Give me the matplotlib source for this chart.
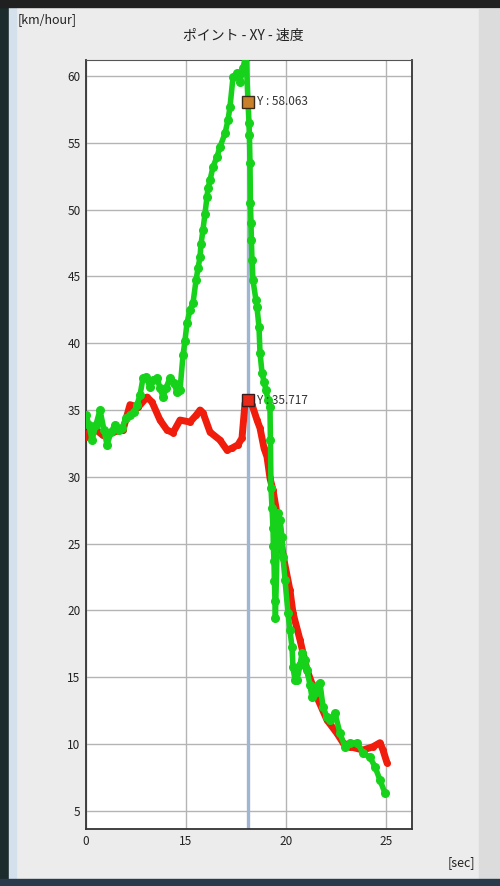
import matplotlib
matplotlib.use("Agg")
import matplotlib.pyplot as plt
from matplotlib.patches import Rectangle

plt.rcParams['font.family'] = ['Noto Sans CJK JP', 'DejaVu Sans']

# --- data (time in sec, speed in km/hour) ---
red_t = [10.0, 10.35, 10.85, 11.35, 11.85, 12.2, 12.6, 13.05, 13.3, 13.7, 14.05, 14.35,
         14.7, 15.2, 15.5, 15.7, 15.85, 16.2, 16.7, 17.05, 17.3, 17.6, 17.8, 17.95, 18.1,
         18.3, 18.55, 18.7, 18.9, 19.05, 19.2, 19.35, 19.6, 19.85, 20.2, 20.35, 20.7,
         21.05, 21.55, 22.05, 22.55, 22.85, 23.2, 23.85, 24.35, 24.7, 24.85, 25.05]
red_v = [33.0, 33.7, 33.1, 33.35, 33.5, 35.4, 35.2, 35.97, 35.6, 34.25, 33.5, 33.3,
         34.25, 34.1, 34.6, 35.0, 34.8, 33.35, 32.75, 32.0, 32.15, 32.4, 32.9, 35.5, 35.717,
         35.4, 34.25, 33.65, 32.15, 31.5, 29.9, 29.0, 26.8, 24.15, 21.5, 19.8, 17.8,
         15.55, 13.5, 11.8, 10.8, 10.1, 9.8, 9.55, 9.8, 10.1, 9.55, 8.6]

green_t = [10.0, 10.15, 10.3, 10.5, 10.7, 10.9, 11.05, 11.25, 11.45, 11.65, 11.8, 12.0,
           12.2, 12.4, 12.55, 12.7, 12.85, 13.0, 13.2, 13.35, 13.55, 13.7, 13.85, 14.0,
           14.2, 14.4, 14.55, 14.7, 14.85, 14.95, 15.05, 15.2, 15.35, 15.5, 15.6, 15.7,
           15.75, 15.85, 15.95, 16.05, 16.1, 16.2, 16.35, 16.55, 16.7, 16.95, 17.1, 17.2,
           17.35, 17.55, 17.7, 17.85, 18.0, 18.1,
           18.15, 18.17, 18.2, 18.22, 18.25, 18.27, 18.3, 18.35, 18.5, 18.55, 18.65, 18.7,
           18.8, 18.9, 19.0, 19.1, 19.2, 19.22, 19.25, 19.3, 19.35, 19.37, 19.4, 19.42,
           19.45, 19.47, 19.6, 19.7, 19.8, 19.85, 19.95, 20.1, 20.2, 20.3, 20.35, 20.45,
           20.55, 20.7, 20.8, 20.95, 21.05, 21.2, 21.3, 21.45, 21.6, 21.7, 21.85, 22.05,
           22.2, 22.45, 22.7, 22.95, 23.2, 23.55, 23.85, 24.2, 24.45, 24.7, 24.95]
green_v = [34.6, 33.9, 32.75, 33.9, 35.0, 33.5, 32.4, 33.35, 33.9, 33.5, 33.65, 34.4,
           34.6, 34.85, 35.4, 36.1, 37.4, 37.5, 36.7, 37.25, 37.4, 36.65, 36.0, 36.65,
           37.4, 37.0, 36.35, 36.5, 39.1, 40.2, 41.5, 42.5, 43.0, 44.7, 45.6, 46.45,
           47.4, 48.5, 49.7, 50.95, 51.6, 52.2, 53.2, 53.95, 54.7, 55.7, 56.7, 57.7,
           59.9, 60.2, 59.55, 60.6, 61.6, 58.063,
           56.5, 55.6, 53.5, 50.5, 49.0, 47.7, 46.2, 44.7, 43.2, 42.7, 41.2, 39.3,
           37.8, 37.1, 36.5, 35.75, 35.2, 32.75, 29.2, 27.7, 26.2, 24.8, 23.7, 22.2,
           20.7, 19.4, 27.3, 26.8, 25.5, 24.0, 22.3, 19.8, 18.5, 17.25, 15.75, 14.8,
           14.8, 15.9, 16.8, 16.3, 15.55, 14.4, 13.5, 13.8, 14.4, 14.55, 12.8, 12.0,
           11.8, 12.3, 10.8, 9.8, 10.1, 10.1, 9.35, 9.0, 8.3, 7.3, 6.33]

cursor_t = 18.1
cursor_green = 58.063
cursor_red = 35.717

y_ticks = [5, 10, 15, 20, 25, 30, 35, 40, 45, 50, 55, 60]
x_ticks = [10, 15, 20, 25]
x_tick_labels = ["0", "15", "20", "25"]

# --- figure ---
fig = plt.figure(figsize=(5, 8.86), dpi=100, facecolor="#ececec")

# window chrome around the chart
fig.patches.append(Rectangle((0, 0), 0.018, 1, transform=fig.transFigure,
                             color="#1c2b2b", zorder=-5))
fig.patches.append(Rectangle((0.018, 0), 0.014, 0.992, transform=fig.transFigure,
                             color="#d4e0ec", zorder=-5))
fig.patches.append(Rectangle((0, 0.992), 1, 0.008, transform=fig.transFigure,
                             color="#202020", zorder=-5))
fig.patches.append(Rectangle((0.958, 0), 0.042, 0.99, transform=fig.transFigure,
                             color="#dcdcdc", zorder=-5))
fig.patches.append(Rectangle((0, 0), 1, 0.008, transform=fig.transFigure,
                             color="#2a3a4a", zorder=-5))

ax = fig.add_axes([0.172, 0.0643, 0.652, 0.868])
ax.set_facecolor("white")

ax.plot(red_t, red_v, color="#f01c0c", linewidth=5, marker="o", markersize=4,
        solid_capstyle="round", solid_joinstyle="round", zorder=3)
ax.plot(green_t, green_v, color="#16d21a", linewidth=4, marker="o", markersize=5.5,
        solid_capstyle="round", solid_joinstyle="round", zorder=4)

ax.axvline(cursor_t, color="#9fb6d2", linewidth=2.4, zorder=2)

ax.plot([cursor_t], [cursor_green], marker="s", markersize=9, color="#c8802c",
        markeredgecolor="#3a2a1a", markeredgewidth=1, zorder=6)
ax.plot([cursor_t], [cursor_red], marker="s", markersize=9, color="#e82818",
        markeredgecolor="#3a1a1a", markeredgewidth=1, zorder=6)
ax.text(cursor_t + 0.45, cursor_green, f"Y : {cursor_green:.3f}", fontsize=8.5,
        color="#333333", va="center", ha="left", zorder=7)
ax.text(cursor_t + 0.45, cursor_red, f"Y : {cursor_red:.3f}", fontsize=8.5,
        color="#333333", va="center", ha="left", zorder=7)

ax.set_xlim(10, 26.3)
ax.set_ylim(3.64, 61.2)
ax.set_yticks(y_ticks)
ax.set_xticks(x_ticks)
ax.set_xticklabels(x_tick_labels)
ax.tick_params(length=0, labelsize=8.5, colors="#222222", pad=4)
ax.grid(True, color="#b4b4b4", linewidth=1)
ax.set_axisbelow(True)
for side in ["left", "bottom", "right"]:
    ax.spines[side].set_color("#333333")
    ax.spines[side].set_linewidth(1.3)
ax.spines["top"].set_color("#555555")

fig.text(0.486, 0.959, "ポイント - XY - 速度", fontsize=10, ha="center", va="center",
         color="#222222")
fig.text(0.036, 0.978, "[km/hour]", fontsize=9, ha="left", va="center", color="#222222")
fig.text(0.95, 0.027, "[sec]", fontsize=9, ha="right", va="center", color="#222222")

fig.savefig("out.png", dpi=100, facecolor=fig.get_facecolor())
